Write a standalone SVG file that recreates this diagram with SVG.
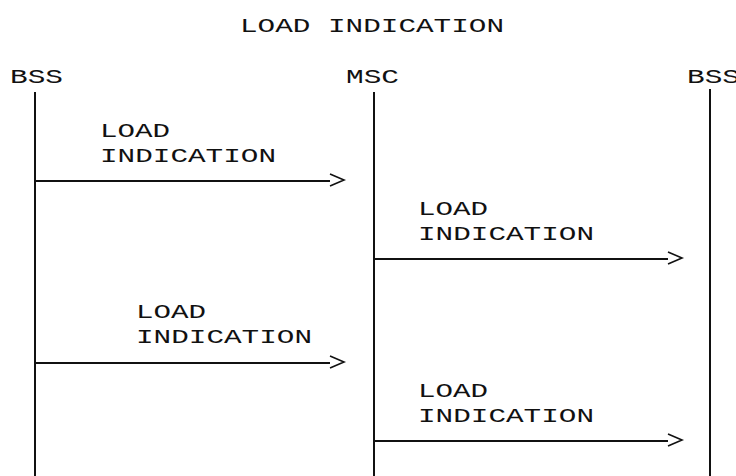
<svg xmlns="http://www.w3.org/2000/svg" width="736" height="476" viewBox="0 0 736 476">
<style>
text{font-family:"Liberation Mono","Courier New",monospace;font-size:21px;fill:#111;}
.life{stroke:#111;stroke-width:2;fill:none;}
.msg{stroke:#111;stroke-width:2;fill:none;}
.head{stroke:#111;stroke-width:1.6;fill:none;}
</style>
<rect width="736" height="476" fill="#fff"/>
<text x="240" y="32" textLength="264" lengthAdjust="spacingAndGlyphs">LOAD INDICATION</text>
<g id="bss1">
<text x="10" y="83" textLength="53" lengthAdjust="spacingAndGlyphs">BSS</text>
<line class="life" x1="35" y1="92" x2="35" y2="476"/>
</g>
<g id="msc">
<text x="346" y="83" textLength="53" lengthAdjust="spacingAndGlyphs">MSC</text>
<line class="life" x1="374" y1="92" x2="374" y2="476"/>
</g>
<g id="bss2">
<text x="687" y="83" textLength="53" lengthAdjust="spacingAndGlyphs">BSS</text>
<line class="life" x1="710" y1="89" x2="710" y2="476"/>
</g>
<g id="connectors">
<g id="m1">
<line class="msg" x1="35" y1="181" x2="330" y2="181"/>
<polyline class="head" points="330,174 344,180 330,186"/>
<text x="100" y="137" textLength="70" lengthAdjust="spacingAndGlyphs">LOAD</text>
<text x="100" y="162" textLength="176" lengthAdjust="spacingAndGlyphs">INDICATION</text>
</g>
<g id="m2">
<line class="msg" x1="374" y1="259" x2="668" y2="259"/>
<polyline class="head" points="668,252 682,258 668,264"/>
<text x="418" y="215" textLength="70" lengthAdjust="spacingAndGlyphs">LOAD</text>
<text x="418" y="240" textLength="176" lengthAdjust="spacingAndGlyphs">INDICATION</text>
</g>
<g id="m3">
<line class="msg" x1="35" y1="363" x2="330" y2="363"/>
<polyline class="head" points="330,356 344,362 330,368"/>
<text x="136" y="318" textLength="70" lengthAdjust="spacingAndGlyphs">LOAD</text>
<text x="136" y="343" textLength="176" lengthAdjust="spacingAndGlyphs">INDICATION</text>
</g>
<g id="m4">
<line class="msg" x1="374" y1="441" x2="668" y2="441"/>
<polyline class="head" points="668,434 682,440 668,446"/>
<text x="418" y="397" textLength="70" lengthAdjust="spacingAndGlyphs">LOAD</text>
<text x="418" y="422" textLength="176" lengthAdjust="spacingAndGlyphs">INDICATION</text>
</g>
</g>
</svg>
